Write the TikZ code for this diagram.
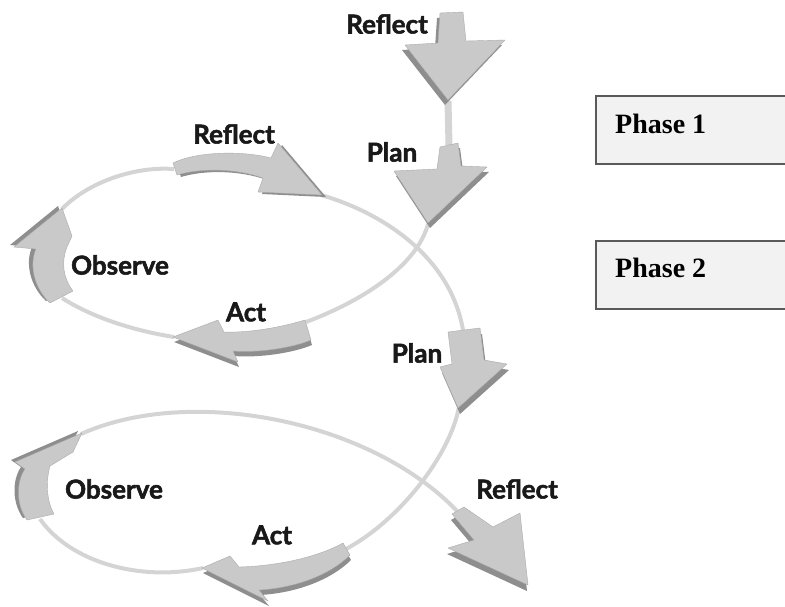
\documentclass[tikz,border=0pt]{standalone}
\usepackage{fontspec}
\setmainfont{Liberation Serif}
\newfontfamily\lblfont{Lato}[BoldFeatures={FakeBold=2}]
\definecolor{arrowgray}{HTML}{C9C9C9}
\definecolor{edgegray}{HTML}{8E8E8E}
\definecolor{linegray}{HTML}{D4D4D4}
\definecolor{boxgray}{HTML}{5A5A5A}
\definecolor{boxfill}{HTML}{F2F2F2}
\newcommand\ArrTopReflect{(440,13) -- (463,12) -- (466,41) -- (505,40) -- (448,100) -- (405,45) -- (438,43) -- cycle}
\newcommand\ArrPlanOne{(440,147) -- (458,143) -- (461,166) -- (487,167) -- (428,223) -- (394,171) -- (437,169) -- cycle}
\newcommand\ArrPlanTwo{(448,332) -- (480,328) -- (484,360) -- (507,364) -- (458,408) -- (440,367) -- (452,364) -- cycle}
\newcommand\ArrReflectTwo{(452,514) -- (464,507) -- (493,527) -- (520,513) -- (528,585) -- (448,548) -- (474,540) -- cycle}
\newcommand\ArrReflectOne{(173,163) .. controls (195,152) and (240,150) .. (271,158) -- (278,143) -- (322,195) -- (258,192) -- (263,178) .. controls (235,168) and (200,168) .. (177,175) -- cycle}
\newcommand\ArrActOne{(305,320) .. controls (282,327) and (250,333) .. (224,332) -- (218,320) -- (173,337) -- (238,362) -- (233,351) .. controls (258,353) and (292,348) .. (311,340) -- cycle}
\newcommand\ArrActTwo{(343,543) .. controls (320,556) and (280,566) .. (239,567) -- (230,556) -- (202,568) -- (268,601) -- (259,590) .. controls (295,588) and (330,575) .. (350,555) -- cycle}
\newcommand\ArrObsOne{(50,303) .. controls (34,288) and (29,265) .. (36,249) -- (14,247) -- (62,208) -- (72,236) -- (67,247) .. controls (61,262) and (63,278) .. (73,291) -- cycle}
\newcommand\ArrObsTwo{(27,520) .. controls (16,505) and (16,482) .. (25,469) -- (15,462) -- (82,433) -- (73,452) -- (50,466) .. controls (46,480) and (46,500) .. (54,514) -- cycle}
\begin{document}
\begin{tikzpicture}[x=1pt,y=-1pt,
  lbl/.style={font=\lblfont\bfseries\fontsize{26}{28}\selectfont, inner sep=1pt, text=black!90},
  plbl/.style={lbl, fill=white, inner sep=2pt},
  loopline/.style={draw=linegray, line width=4pt},
  face/.style={fill=arrowgray, draw=arrowgray!85!black, line width=0.4pt, line join=round},
  shade3d/.style={fill=edgegray},
  phasebox/.style={draw=boxgray, line width=1.6pt, fill=boxfill},
  phasetxt/.style={font=\bfseries\fontsize{28}{30}\selectfont, anchor=west, inner sep=0pt}
]
\useasboundingbox (0,0) rectangle (785,606);
\clip (0,0) rectangle (785,606);

% named anchor points
\coordinate (trTip) at (448,101);
\coordinate (p1Top) at (449,145);
\coordinate (p1Tip) at (428,224);
\coordinate (a1End) at (306,322);
\coordinate (a1Tip) at (174,337);
\coordinate (o1End) at (62,298);
\coordinate (o1Tip) at (62,209);
\coordinate (r1Start) at (174,169);
\coordinate (r1Tip) at (321,195);
\coordinate (p2Top) at (463,330);
\coordinate (p2Tip) at (459,407);
\coordinate (a2End) at (346,549);
\coordinate (a2Tip) at (203,568);
\coordinate (o2End) at (40,519);
\coordinate (o2Tip) at (81,434);
\coordinate (r2Start) at (457,511);

% loop lines
\draw[linegray, line width=7pt] (trTip) -- (p1Top);
\draw[loopline] (p1Tip) .. controls (418,262) and (370,298) .. (a1End);
\draw[loopline] (a1Tip) .. controls (130,330) and (90,316) .. (o1End);
\draw[loopline] (o1Tip) .. controls (85,185) and (130,166) .. (r1Start);
\draw[loopline] (r1Tip) .. controls (380,212) and (450,255) .. (p2Top);
\draw[loopline] (p2Tip) .. controls (450,455) and (400,520) .. (a2End);
\draw[loopline] (a2Tip) .. controls (140,582) and (70,562) .. (o2End);
\draw[loopline] (o2Tip) .. controls (190,385) and (370,420) .. (r2Start);

% block arrows: darker extrusion, then face
\fill[shade3d, shift={(-3,5)}] \ArrTopReflect;
\path[face] \ArrTopReflect;
\fill[shade3d, shift={(2,5)}] \ArrPlanOne;
\path[face] \ArrPlanOne;
\fill[shade3d, shift={(2,6)}] \ArrPlanTwo;
\path[face] \ArrPlanTwo;
\fill[shade3d, shift={(-1,6)}] \ArrReflectTwo;
\path[face] \ArrReflectTwo;
\fill[shade3d, shift={(4,2)}] \ArrReflectOne;
\path[face] \ArrReflectOne;
\fill[shade3d, shift={(1,5)}] \ArrActOne;
\path[face] \ArrActOne;
\fill[shade3d, shift={(1,5)}] \ArrActTwo;
\path[face] \ArrActTwo;
\fill[shade3d, shift={(-4,-2)}] \ArrObsOne;
\path[face] \ArrObsOne;
\fill[shade3d, shift={(-4,-2)}] \ArrObsTwo;
\path[face] \ArrObsTwo;

% labels
\node[lbl] (lTopReflect) at (387,24) {Reflect};
\node[plbl] (lPlanOne) at (392,152) {Plan};
\node[lbl] (lReflectOne) at (234,134) {Reflect};
\node[lbl] (lObsOne) at (120,265) {Observe};
\node[lbl] (lActOne) at (246,312) {Act};
\node[plbl] (lPlanTwo) at (417,353) {Plan};
\node[lbl] (lObsTwo) at (114,489) {Observe};
\node[lbl] (lActTwo) at (272,535) {Act};
\node[lbl] (lReflectTwo) at (517,489) {Reflect};

% phase boxes
\node[phasebox, minimum width=200pt, minimum height=68pt, anchor=north west] (boxOne) at (595,95) {};
\node[phasebox, minimum width=200pt, minimum height=68pt, anchor=north west] (boxTwo) at (595,240) {};
\node[phasetxt] (tOne) at (615,124) {Phase 1};
\node[phasetxt] (tTwo) at (615,268) {Phase 2};
\end{tikzpicture}
\end{document}
